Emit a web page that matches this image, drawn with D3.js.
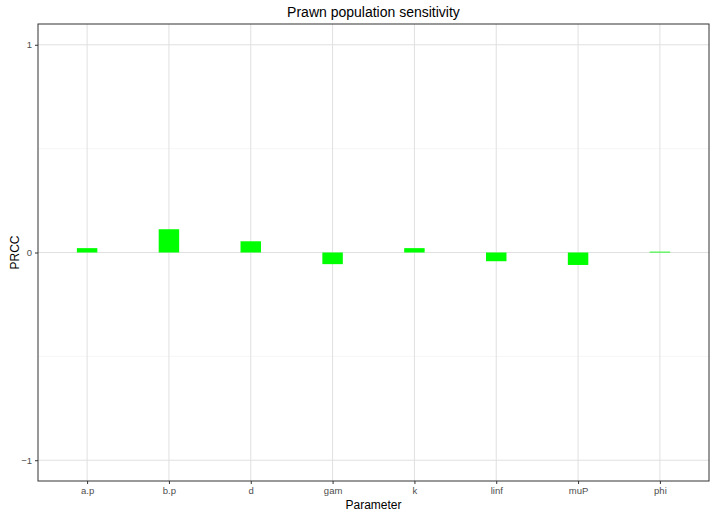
<!DOCTYPE html><html><head><meta charset="utf-8"><script src="https://cdn.jsdelivr.net/npm/d3@7"></script>
<style>body{margin:0;background:#fff}text{font-family:"Liberation Sans",Arial,sans-serif}</style></head><body>
<svg id="c" width="717" height="517"></svg>
<script>
const categories=["a.p","b.p","d","gam","k","linf","muP","phi"];
const values=[0.021,0.112,0.054,-0.056,0.021,-0.042,-0.06,0.004];
const yTicks=[-1,0,1];
const yMinor=[-0.5,0.5];
const svg=d3.select("#c");
const L=38,R=709,T=24,B=481;
const x=d3.scalePoint().domain(categories).range([L,R]).padding(0.6);
const step=x.step();
const y=d3.scaleLinear().domain([-1.1,1.1]).range([B,T]);
const g=svg.append("g");
yMinor.forEach(v=>g.append("line").attr("x1",L).attr("x2",R).attr("y1",y(v)).attr("y2",y(v)).attr("stroke","#f0f0f0").attr("stroke-width",0.6));
yTicks.forEach(v=>g.append("line").attr("x1",L).attr("x2",R).attr("y1",y(v)).attr("y2",y(v)).attr("stroke","#e0e0e0").attr("stroke-width",1));
categories.forEach(c=>g.append("line").attr("x1",x(c)).attr("x2",x(c)).attr("y1",T).attr("y2",B).attr("stroke","#e0e0e0").attr("stroke-width",1));
const bw=step*0.25;
g.selectAll("rect.b").data(values).join("rect").attr("x",(d,i)=>x(categories[i])-bw/2).attr("width",bw)
 .attr("y",d=>y(Math.max(0,d))).attr("height",d=>Math.max(0.6,Math.abs(y(d)-y(0)))).attr("fill","#00ff00");
svg.append("rect").attr("x",L).attr("y",T).attr("width",R-L).attr("height",B-T).attr("fill","none").attr("stroke","#333").attr("stroke-width",1);
const ya=svg.append("g").attr("transform",`translate(${L},0)`).call(d3.axisLeft(y).tickValues(yTicks).tickSize(3).tickFormat(d3.format("d")));
const xa=svg.append("g").attr("transform",`translate(0,${B})`).call(d3.axisBottom(x).tickSize(3));
[ya,xa].forEach(a=>{a.select(".domain").remove();a.selectAll("line").attr("stroke","#333");a.selectAll("text").attr("fill","#4d4d4d").style("font-size","9.5px");});
svg.append("text").attr("x",(L+R)/2).attr("y",17).attr("text-anchor","middle").style("font-size","14px").text("Prawn population sensitivity");
svg.append("text").attr("x",(L+R)/2).attr("y",509).attr("text-anchor","middle").style("font-size","12px").text("Parameter");
svg.append("text").attr("transform",`translate(19,${(T+B)/2}) rotate(-90)`).attr("text-anchor","middle").style("font-size","12px").text("PRCC");
</script></body></html>
